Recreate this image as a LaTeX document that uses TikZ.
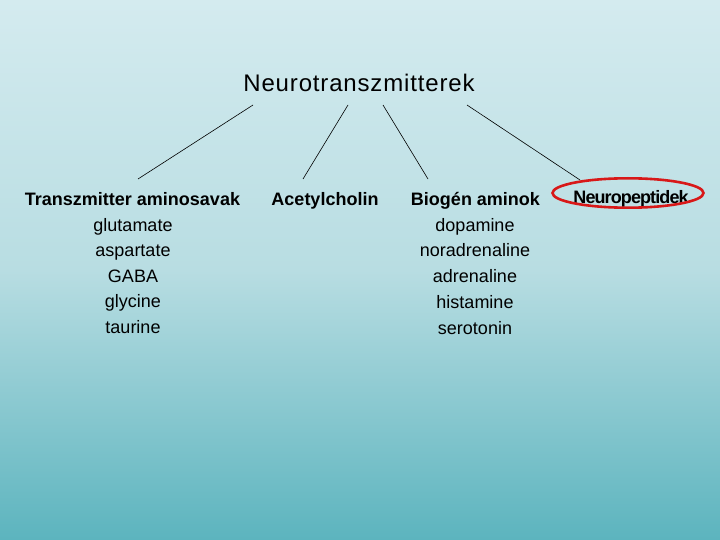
\documentclass[tikz,border=0pt]{standalone}
\usepackage{fontspec}
\setmainfont{Liberation Sans}
\definecolor{bgtop}{HTML}{D4EBEF}
\definecolor{bgmid}{HTML}{B8DDE2}
\definecolor{bgbot}{HTML}{5CB4BE}
\definecolor{ringred}{HTML}{D81818}
\tikzset{
  lbl/.style={inner sep=0pt, anchor=base, font=\fontsize{18}{20}\selectfont},
  head/.style={lbl, font=\fontsize{18}{20}\selectfont\bfseries},
  conn/.style={draw=black, line width=0.6pt},
}
\begin{document}
\begin{tikzpicture}[x=1pt,y=-1pt]
\useasboundingbox (0,0) rectangle (720,540);
\shade[top color=bgtop, bottom color=bgmid, draw=none] (0pt,0pt) rectangle (720pt,-270pt);
\shade[top color=bgmid, bottom color=bgbot, draw=none] (0pt,-270pt) rectangle (720pt,-540pt);

\node[lbl, font=\fontsize{24}{26}\selectfont\addfontfeature{LetterSpace=3.5}] (title) at (359,92) {Neurotranszmitterek};

\node[head] (amino) at (132.5,206) {Transzmitter aminosavak};
\node[head] (ach) at (325,206) {Acetylcholin};
\node[head] (biogen) at (475.5,206) {Biogén aminok};
\node[head, font=\fontsize{18}{20}\selectfont\bfseries\addfontfeature{LetterSpace=-5}] (neuro) at (631,204) {Neuropeptidek};

\node[lbl] (glu) at (133,231) {glutamate};
\node[lbl] (asp) at (133,256.5) {aspartate};
\node[lbl] (gaba) at (133,282) {GABA};
\node[lbl] (gly) at (133,307.5) {glycine};
\node[lbl] (tau) at (133,333) {taurine};

\node[lbl] (dop) at (475,231) {dopamine};
\node[lbl] (nor) at (475,256.5) {noradrenaline};
\node[lbl] (adr) at (475,282) {adrenaline};
\node[lbl] (his) at (475,308) {histamine};
\node[lbl] (ser) at (475,334) {serotonin};

\coordinate (s1) at (253,105); \coordinate (e1) at (138,179);
\coordinate (s2) at (348,105); \coordinate (e2) at (303,179);
\coordinate (s3) at (383,105); \coordinate (e3) at (428,179);
\coordinate (s4) at (467,105); \coordinate (e4) at (580,180);
\draw[conn] (s1) -- (e1);
\draw[conn] (s2) -- (e2);
\draw[conn] (s3) -- (e3);
\draw[conn] (s4) -- (e4);

\draw[ringred, line width=2.6pt] (628,193) ellipse [x radius=75.5, y radius=14.7];
\end{tikzpicture}
\end{document}
